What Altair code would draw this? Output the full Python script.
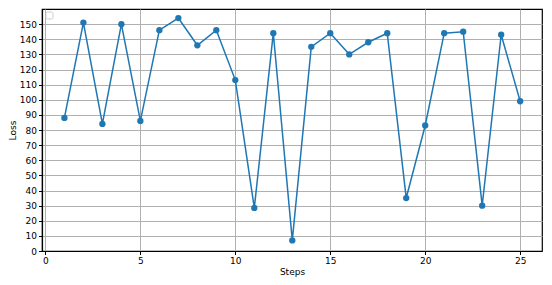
import altair as alt
import pandas as pd

steps = list(range(1, 26))
loss = [88, 151, 84, 150, 86, 146, 154, 136, 146, 113, 28.5, 144, 7, 135, 144,
        130, 138, 144, 35, 83, 144, 145, 30, 143, 99]
x_ticks = [0, 5, 10, 15, 20, 25]
y_ticks = list(range(0, 151, 10))

df = pd.DataFrame({"Steps": steps, "Loss": loss})

W, H = 500, 242
font = "DejaVu Sans"

common = dict(grid=True, gridColor="#b0b0b0", gridWidth=1, tickColor="black",
              domainColor="black", labelFont=font, titleFont=font, labelFontSize=9,
              titleFontSize=9, titleFontWeight="normal", labelColor="black",
              titleColor="black", tickSize=3.5, labelPadding=2, titlePadding=2,
              domainWidth=1.2, labelOverlap=False)

x_enc = alt.X("Steps:Q", scale=alt.Scale(domain=[-0.18, 26.15], nice=False, zero=False),
              axis=alt.Axis(values=x_ticks, title="Steps", **common))
y_enc = alt.Y("Loss:Q", scale=alt.Scale(domain=[0, 160], nice=False),
              axis=alt.Axis(values=y_ticks, title="Loss", **common))

line = alt.Chart(df).mark_line(color="#1f77b4", strokeWidth=1.5).encode(x=x_enc, y=y_enc)
pts = alt.Chart(df).mark_circle(color="#1f77b4", size=40, opacity=1).encode(x=x_enc, y=y_enc)
legend_box = alt.Chart(pd.DataFrame({"a": [0]})).mark_rect(
    fill="white", stroke="#cccccc", strokeWidth=1, cornerRadius=1.5
).encode(x=alt.value(4), x2=alt.value(11), y=alt.value(3), y2=alt.value(10))

chart = alt.layer(line, pts, legend_box).properties(
    width=W, height=H,
    autosize=alt.AutoSizeParams(type="none"),
    padding={"left": 34, "top": 1, "right": 2, "bottom": 26},
).configure_view(stroke="black", strokeWidth=1.2)

chart.save("out.html", embed_options={"renderer": "svg", "actions": False})
